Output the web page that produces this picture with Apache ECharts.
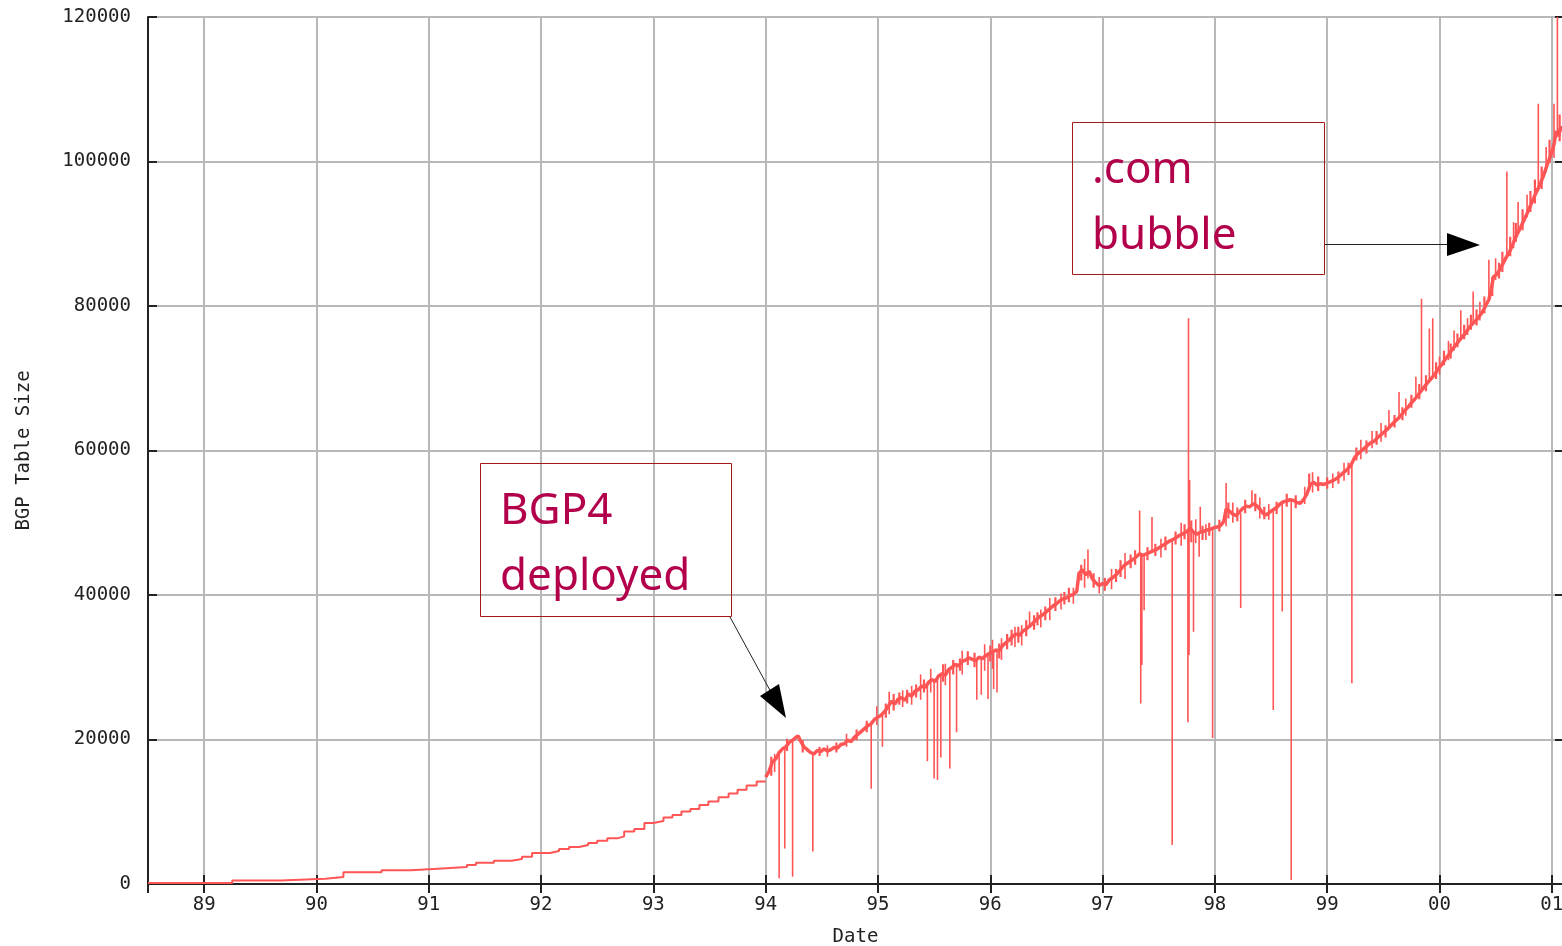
<!DOCTYPE html>
<html>
<head>
<meta charset="utf-8">
<script src="https://cdn.jsdelivr.net/npm/echarts@6.0.0/dist/echarts.min.js"></script>
<style>
html,body{margin:0;padding:0;background:#fff;overflow:hidden;}
#chart{width:1562px;height:946px;}
</style>
</head>
<body>
<div id="chart"></div>
<script>
// ---- early (stepped) part of the table-size series ----
const stepDates = [1988.5, 1989.25, 1989.68, 1990.08, 1990.24, 1990.58, 1990.84, 1991.08, 1991.34, 1991.42,
  1991.58, 1991.74, 1991.83, 1991.92, 1992.08, 1992.16, 1992.25, 1992.34, 1992.42, 1992.50,
  1992.59, 1992.68, 1992.74, 1992.83, 1992.92, 1993.00, 1993.09, 1993.17, 1993.25, 1993.33,
  1993.41, 1993.49, 1993.58, 1993.67, 1993.75, 1993.83, 1993.92, 1994.00];
const stepValues = [150, 500, 740, 970, 1610, 1890, 2120, 2350, 2630, 2950,
  3230, 3460, 3780, 4290, 4560, 4840, 5120, 5390, 5670, 5990,
  6320, 6590, 7280, 7610, 8440, 8710, 9220, 9540, 10050, 10370,
  10930, 11430, 11990, 12540, 13050, 13650, 14200, 14200];

// ---- later (noisy) part ----
const trendDates = [
  1994.00,1994.03,1994.06,1994.09,1994.12,1994.15,1994.18,1994.21,1994.24,1994.27,1994.29,1994.31,1994.34,1994.37,1994.40,1994.43,1994.46,1994.49,1994.52,1994.55,
  1994.58,1994.61,1994.64,1994.67,1994.70,1994.73,1994.76,1994.79,1994.82,1994.85,1994.88,1994.91,1994.94,1994.97,
  1995.00,1995.03,1995.06,1995.09,1995.12,1995.15,1995.18,1995.21,1995.24,1995.27,1995.30,1995.33,1995.36,1995.39,1995.42,1995.45,1995.48,1995.51,1995.54,1995.57,
  1995.60,1995.63,1995.66,1995.69,1995.72,1995.75,1995.78,1995.81,1995.84,1995.87,1995.90,1995.93,1995.96,1995.99,
  1996.02,1996.05,1996.08,1996.11,1996.14,1996.17,1996.20,1996.23,1996.26,1996.29,1996.32,1996.35,1996.38,1996.41,1996.44,1996.47,1996.50,1996.53,1996.56,1996.59,
  1996.62,1996.65,1996.68,1996.71,1996.74,1996.77,1996.79,1996.82,1996.85,1996.88,1996.91,1996.94,1996.97,
  1997.00,1997.03,1997.06,1997.09,1997.12,1997.15,1997.18,1997.21,1997.24,1997.27,1997.30,1997.33,1997.36,1997.39,1997.42,1997.45,1997.48,1997.51,1997.54,1997.57,
  1997.60,1997.63,1997.66,1997.69,1997.72,1997.75,1997.78,1997.81,1997.84,1997.87,1997.90,1997.93,1997.96,1997.99,
  1998.02,1998.05,1998.08,1998.10,1998.13,1998.16,1998.19,1998.22,1998.25,1998.28,1998.31,1998.34,1998.37,1998.40,1998.43,1998.46,1998.49,1998.52,1998.55,1998.58,
  1998.61,1998.64,1998.67,1998.70,1998.73,1998.76,1998.79,1998.82,1998.85,1998.88,1998.91,1998.94,1998.97,
  1999.00,1999.03,1999.06,1999.09,1999.12,1999.15,1999.18,1999.21,1999.24,1999.27,1999.30,1999.33,1999.36,1999.39,1999.42,1999.45,1999.48,1999.51,1999.54,1999.57,
  1999.60,1999.63,1999.66,1999.69,1999.72,1999.75,1999.78,1999.81,1999.84,1999.87,1999.90,1999.93,1999.96,1999.99,
  2000.02,2000.05,2000.08,2000.11,2000.14,2000.17,2000.20,2000.23,2000.26,2000.29,2000.32,2000.35,2000.38,2000.41,2000.44,2000.46,2000.48,2000.51,2000.54,2000.57,
  2000.60,2000.63,2000.66,2000.69,2000.72,2000.75,2000.78,2000.81,2000.84,2000.87,2000.90,2000.93,2000.96,2000.99,
  2001.02,2001.04,2001.06,2001.08,2001.10];
const trendValues = [
  14800,15600,16900,17300,18200,18700,19000,19600,19900,20300,20500,19800,19000,18600,18200,18000,18500,18300,18700,18400,
  18600,18900,18800,19300,19400,19900,19700,20300,20700,21100,21500,21900,22200,22800,
  23100,23400,23900,24500,25300,24900,25600,25800,25400,26300,26000,26700,26900,27400,27200,27900,28300,28000,28800,29100,
  28900,29700,30000,30400,30200,30800,31000,31300,31100,30900,31400,31200,31600,31900,
  32100,32400,32300,33000,33400,33800,34300,34600,34400,35000,35300,35700,36100,36600,37000,37300,37700,38100,38500,38800,
  39200,39500,39600,39900,40100,40500,43000,43500,42800,43300,42200,41700,41300,
  41600,41400,42100,42400,42800,43300,43900,44300,44600,44900,45300,45700,45500,45700,45900,46100,46300,46600,46900,47200,
  47500,47700,48000,48300,48500,48800,49200,48700,48400,48700,48800,49000,49100,49300,
  49400,49600,50200,51900,51600,51200,51000,51500,52000,52300,52200,52600,52400,51900,51300,51100,51500,51800,52100,52600,
  52900,53000,53200,53100,52800,52700,53200,54000,55300,55600,55200,55400,55300,
  55500,55700,55900,56200,56600,57000,57400,57900,58900,59500,59900,60300,60700,61100,61300,61800,62200,62600,63000,63500,
  64000,64400,64900,65500,66000,66600,67100,67700,68300,68900,69500,70000,70600,71300,
  71900,72600,73200,73900,74500,75100,75700,76200,76900,77500,77900,78500,79100,80000,80900,82200,84000,84400,85100,86000,
  86900,87700,88800,89900,90800,91800,92800,93900,95000,96000,97000,98200,99600,100800,
  102400,104200,103500,104800,104300];

// ---- large momentary spikes (date, low end, high end) ----
const spikeDates = [
  1994.08,1994.12,1994.17,1994.24,1994.42,1994.55,1994.72,1994.94,1994.99,1995.04,1995.10,1995.22,1995.30,1995.38,1995.44,1995.47,1995.50,1995.53,1995.56,1995.60,
  1995.64,1995.70,1995.75,1995.88,1995.92,1995.95,1995.98,1996.02,1996.03,1996.06,1996.10,1996.22,1996.28,1996.35,1996.45,1996.53,1996.63,1996.74,1996.84,1996.87,
  1996.97,1997.08,1997.20,1997.33,1997.34,1997.35,1997.37,1997.44,1997.52,1997.62,1997.70,1997.76,1997.765,1997.77,1997.775,1997.81,1997.83,1997.86,1997.87,1997.92,
  1997.98,1998.10,1998.16,1998.23,1998.33,1998.40,1998.48,1998.52,1998.60,1998.68,1998.80,1998.87,1999.05,1999.15,1999.22,1999.30,1999.40,1999.48,1999.55,1999.64,
  1999.70,1999.79,1999.84,1999.91,1999.94,2000.00,2000.08,2000.13,2000.19,2000.25,2000.30,2000.36,2000.44,2000.50,2000.60,2000.66,2000.70,2000.78,2000.88,2000.95,
  2001.02,2001.05];
const spikeLows = [
  15500,800,4900,1000,4500,17600,19000,13200,22000,19000,23500,24500,24800,25500,17000,26500,14600,14400,17500,27500,
  16000,21000,29000,25500,26200,29500,25600,29800,27000,26500,31000,32800,33000,35500,35500,36500,38000,38800,41000,42300,
  40200,40800,42200,45700,25000,30300,37900,45800,45200,5400,46800,22400,48800,31700,48800,34900,47200,45300,48500,47600,
  20200,49500,50000,38200,52500,50600,50400,24100,37700,550,52600,54200,54800,55800,27800,58800,60300,61200,63000,64500,
  64800,67300,68300,69600,70200,70500,72500,73800,75300,76000,77700,78000,80900,83600,86900,88000,90000,92300,96300,98500,
  100500,104000];
const spikeHighs = [
  18000,18000,18800,19800,18100,19200,20800,22500,24600,23500,26600,26800,27400,29000,27600,29800,28400,28600,28900,30500,
  29700,30300,32300,31000,31400,33200,31600,33800,32300,32400,34000,35600,35800,37700,38000,39600,40200,41000,45000,46300,
  42500,43600,45800,51700,45700,45700,45600,50800,47800,47500,50000,48800,78300,48800,55900,48800,50500,48500,52200,49800,
  49200,55500,52800,51300,54500,53500,52600,51700,52800,53200,55000,57000,56800,58300,58000,61500,62700,63800,65600,68100,
  67200,70200,81000,76900,78300,73000,75200,76600,79400,78300,82000,80600,86400,86600,98600,91600,94400,95400,108000,102000,
  108000,120000];

// ---- small day-to-day fluctuations (date, low end, high end) ----
const noiseDates = [
  1994.05,1994.19,1994.33,1994.48,1994.63,1994.81,1994.90,1995.07,1995.14,1995.19,1995.26,1995.34,1995.41,1995.58,1995.67,1995.73,1995.80,1995.86,1996.00,1996.08,
  1996.15,1996.19,1996.25,1996.32,1996.39,1996.42,1996.49,1996.58,1996.66,1996.70,1996.81,1996.92,1997.02,1997.12,1997.16,1997.25,1997.29,1997.40,1997.47,1997.56,
  1997.65,1997.73,1997.79,1997.89,1997.95,1998.04,1998.12,1998.20,1998.27,1998.36,1998.44,1998.55,1998.64,1998.72,1998.84,1998.92,1999.00,1999.10,1999.19,1999.26,
  1999.35,1999.44,1999.52,1999.60,1999.67,1999.75,1999.82,1999.88,1999.97,2000.04,2000.10,2000.16,2000.22,2000.28,2000.33,2000.40,2000.47,2000.53,2000.56,2000.63,
  2000.68,2000.74,2000.81,2000.85,2000.91,2000.98,2001.07];
const noiseLows = [
  15000,18400,18200,17700,18200,19900,21000,23000,24000,24800,25000,25800,26500,28000,29000,29500,30300,30000,30800,31200,
  32500,33000,33400,34300,35200,35800,36500,37800,38700,39000,42000,41000,40600,41800,42500,43700,44200,44800,45400,46200,
  47000,47700,47300,47600,48200,48800,50600,50200,51300,51600,50500,51200,52200,52000,54500,54400,54700,55400,56600,58600,
  59600,60800,61800,63200,64200,65900,67100,68200,69900,71800,72700,74300,75400,76700,77300,79000,81400,83800,84700,86900,
  88900,90500,93000,94200,96200,99800,102800];
const noiseHighs = [
  17600,20100,19900,19000,19600,21400,22600,25000,26300,26500,26900,27600,28300,30400,31000,31200,32200,32000,33000,33300,
  34600,35200,35600,36500,37200,37600,38400,39700,40400,41000,44200,43000,42400,43600,44800,45600,46200,46600,47100,48100,
  48800,49800,50300,49600,50000,50400,52800,52100,53200,54000,52200,52900,54000,53800,56800,56400,56300,57100,58300,60400,
  61400,62700,63500,64900,66000,67700,69200,70400,72200,73800,74800,76200,77400,78800,79500,81300,84000,86000,87500,89600,
  91500,93400,95900,97500,99300,103000,106500];

// ---- axis ticks ----
const yTicks = [0, 20000, 40000, 60000, 80000, 100000, 120000];
const xMin = 1988.5, xMax = 2001.1;

const stepData = stepDates.map((d, i) => [d, stepValues[i]]);
const trendData = trendDates.map((d, i) => [d, trendValues[i]]);
function barsFrom(dates, lows, highs) {
  const out = [];
  dates.forEach((d, i) => { out.push([d, lows[i]], [d, highs[i]], [d, '-']); });
  return out;
}
const spikeData = barsFrom(spikeDates, spikeLows, spikeHighs);
const noiseData = barsFrom(noiseDates, noiseLows, noiseHighs);

const mono = '"DejaVu Sans Mono", "Liberation Mono", monospace';
const red = '#ff5555';
const gridLine = { show: true, lineStyle: { color: '#b8b8b8', width: 2 } };
const axLine = { show: true, lineStyle: { color: '#222', width: 2 } };
const tick = { show: true, inside: true, length: 9, lineStyle: { color: '#222', width: 2 } };
const annFont = '44px "Comic Sans MS", "Noto Sans", sans-serif';
const annColor = '#b3004b';

const chart = echarts.init(document.getElementById('chart'), null, { renderer: 'canvas' });
chart.setOption({
  animation: false,
  backgroundColor: '#fff',
  grid: { left: 148, top: 17, right: -1, bottom: 62, containLabel: false, outerBoundsMode: 'none' },
  xAxis: [{
    type: 'value', min: xMin, max: xMax, minInterval: 1, maxInterval: 1, splitNumber: 12,
    position: 'bottom',
    name: 'Date', nameLocation: 'middle', nameGap: 44,
    nameTextStyle: { fontFamily: mono, fontSize: 19, color: '#222' },
    axisLine: axLine,
    axisTick: tick,
    axisLabel: {
      fontFamily: mono, fontSize: 19, color: '#222', margin: 12, hideOverlap: false,
      formatter: v => Math.abs(v - Math.round(v)) < 1e-6 ? String(Math.round(v) % 100).padStart(2, '0') : ''
    },
    splitLine: gridLine
  }, {
    type: 'value', min: xMin, max: xMax, minInterval: 1, maxInterval: 1, splitNumber: 12,
    position: 'top',
    axisLine: axLine,
    axisTick: tick,
    axisLabel: { show: false },
    splitLine: { show: false }
  }],
  yAxis: [{
    type: 'value', min: yTicks[0], max: yTicks[yTicks.length - 1], interval: yTicks[1] - yTicks[0],
    position: 'left',
    name: 'BGP Table Size', nameLocation: 'middle', nameGap: 114,
    nameTextStyle: { fontFamily: mono, fontSize: 19, color: '#222' },
    axisLine: axLine,
    axisTick: tick,
    axisLabel: { fontFamily: mono, fontSize: 19, color: '#222', margin: 17, formatter: v => String(v) },
    splitLine: gridLine
  }, {
    type: 'value', min: yTicks[0], max: yTicks[yTicks.length - 1], interval: yTicks[1] - yTicks[0],
    position: 'right',
    axisLine: axLine,
    axisTick: { show: true, inside: true, length: 8, lineStyle: { color: '#222', width: 2 } },
    axisLabel: { show: false },
    splitLine: { show: false }
  }],
  series: [{
    type: 'line', data: stepData, step: 'end', showSymbol: false, symbol: 'none',
    lineStyle: { color: red, width: 2 }, z: 3
  }, {
    type: 'line', data: trendData, showSymbol: false, symbol: 'none',
    lineStyle: { color: red, width: 3.5 }, z: 3
  }, {
    type: 'line', data: noiseData, showSymbol: false, symbol: 'none', connectNulls: false,
    lineStyle: { color: red, width: 2.2 }, z: 3
  }, {
    type: 'line', data: spikeData, showSymbol: false, symbol: 'none', connectNulls: false,
    lineStyle: { color: red, width: 1.6 }, z: 3
  }],
  graphic: [
    { type: 'rect', z: 100, shape: { x: 480.5, y: 463.5, width: 251, height: 153 },
      style: { fill: 'none', stroke: '#a31a1a', lineWidth: 1 } },
    { type: 'text', z: 100, x: 500, y: 511,
      style: { text: 'BGP4', font: annFont, fill: annColor, verticalAlign: 'middle' } },
    { type: 'text', z: 100, x: 500, y: 577,
      style: { text: 'deployed', font: annFont, fill: annColor, verticalAlign: 'middle' } },
    { type: 'line', z: 100, shape: { x1: 730, y1: 617, x2: 772, y2: 694 }, style: { stroke: '#222', lineWidth: 1 } },
    { type: 'polygon', z: 100, shape: { points: [[786, 718], [760, 696], [779, 684]] }, style: { fill: '#000' } },

    { type: 'rect', z: 100, shape: { x: 1072.5, y: 122.5, width: 252, height: 152 },
      style: { fill: 'none', stroke: '#a31a1a', lineWidth: 1 } },
    { type: 'text', z: 100, x: 1092, y: 170,
      style: { text: '.com', font: annFont, fill: annColor, verticalAlign: 'middle' } },
    { type: 'text', z: 100, x: 1092, y: 236,
      style: { text: 'bubble', font: annFont, fill: annColor, verticalAlign: 'middle' } },
    { type: 'line', z: 100, shape: { x1: 1325, y1: 244.5, x2: 1448, y2: 244.5 }, style: { stroke: '#222', lineWidth: 1 } },
    { type: 'polygon', z: 100, shape: { points: [[1480, 245], [1447, 233], [1447, 256]] }, style: { fill: '#000' } }
  ]
});
</script>
</body>
</html>
